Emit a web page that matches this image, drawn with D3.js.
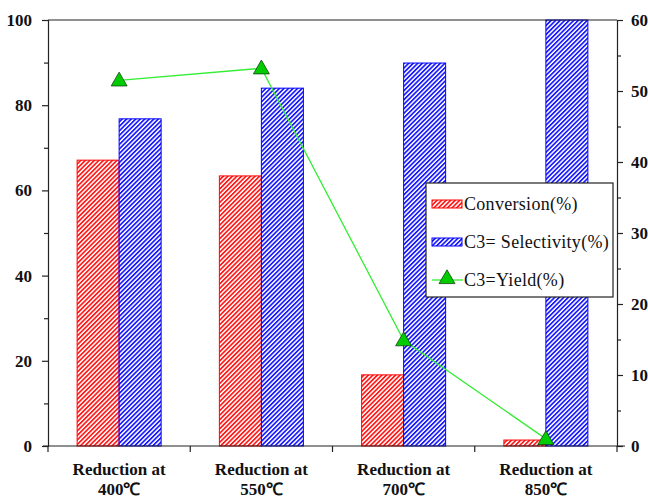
<!DOCTYPE html>
<html>
<head>
<meta charset="utf-8">
<script src="https://cdn.jsdelivr.net/npm/d3@7/dist/d3.min.js"></script>
<style>
  body { margin: 0; background: #fff; }
</style>
</head>
<body>
<div id="chart"></div>
<script>
(function() {
  var categories = ["Reduction at|400\u2103", "Reduction at|550\u2103", "Reduction at|700\u2103", "Reduction at|850\u2103"];
  var conversion = [67.1, 63.4, 16.7, 1.4];
  var selectivity = [76.8, 84.0, 89.9, 100];
  var yieldVals = [51.5, 53.2, 14.9, 1.0];
  var leftTicks = [0, 20, 40, 60, 80, 100];
  var rightTicks = [0, 10, 20, 30, 40, 50, 60];

  var W = 648, H = 498;
  var margin = { top: 20, left: 48, right: 31, bottom: 52 };
  var width = W - margin.left - margin.right,
      height = H - margin.top - margin.bottom;
  var serif = "Liberation Serif";

  var svg = d3.select("#chart").append("svg")
    .attr("width", W).attr("height", H)
    .attr("font-family", serif);

  var defs = svg.append("defs");
  function hatch(id, color) {
    var p = defs.append("pattern")
      .attr("id", id)
      .attr("patternUnits", "userSpaceOnUse")
      .attr("width", 3.2).attr("height", 3.2)
      .attr("patternTransform", "rotate(45)");
    p.append("rect").attr("width", 3.2).attr("height", 3.2).attr("fill", "#fff");
    p.append("rect").attr("width", 1.7).attr("height", 3.2).attr("fill", color);
  }
  hatch("hatch-red", "#ff1a1a");
  hatch("hatch-blue", "#1a1aff");

  var g = svg.append("g").attr("transform", "translate(" + margin.left + "," + margin.top + ")");

  var x = d3.scaleBand().domain(categories).range([0, width]).paddingInner(0).paddingOuter(0);
  var yL = d3.scaleLinear().domain([0, 100]).range([height, 0]);
  var yR = d3.scaleLinear().domain([0, 60]).range([height, 0]);
  var barW = 42;

  // bars
  g.selectAll(".conv").data(conversion).enter().append("rect")
    .attr("x", function(d, i) { return x(categories[i]) + x.bandwidth() / 2 - barW; })
    .attr("y", function(d) { return yL(d); })
    .attr("width", barW)
    .attr("height", function(d) { return height - yL(d); })
    .attr("fill", "url(#hatch-red)")
    .attr("stroke", "#ff0000").attr("stroke-width", 1);

  g.selectAll(".sel").data(selectivity).enter().append("rect")
    .attr("x", function(d, i) { return x(categories[i]) + x.bandwidth() / 2; })
    .attr("y", function(d) { return yL(d); })
    .attr("width", barW)
    .attr("height", function(d) { return height - yL(d); })
    .attr("fill", "url(#hatch-blue)")
    .attr("stroke", "#0000ff").attr("stroke-width", 1);

  // yield line
  var line = d3.line()
    .x(function(d, i) { return x(categories[i]) + x.bandwidth() / 2; })
    .y(function(d) { return yR(d); });
  g.append("path").datum(yieldVals)
    .attr("d", line)
    .attr("fill", "none")
    .attr("stroke", "#33ee33")
    .attr("stroke-width", 1.3);

  var tri = d3.symbol().type(d3.symbolTriangle).size(110);
  g.selectAll(".tri").data(yieldVals).enter().append("path")
    .attr("d", tri)
    .attr("transform", function(d, i) {
      return "translate(" + (x(categories[i]) + x.bandwidth() / 2) + "," + (yR(d) + 1) + ")";
    })
    .attr("fill", "#00cc00")
    .attr("stroke", "#114411").attr("stroke-width", 0.8);

  // frame
  g.append("line").attr("x1", 0).attr("x2", width).attr("y1", 0).attr("y2", 0)
    .attr("stroke", "#222").attr("stroke-width", 1.2);

  // left axis
  var left = g.append("g").call(d3.axisLeft(yL).tickValues(leftTicks).tickSize(6).tickPadding(10));
  left.append("g").call(d3.axisLeft(yL).tickValues([10, 30, 50, 70, 90]).tickSize(4).tickFormat(""))
    .select(".domain").remove();

  // right axis
  var right = g.append("g").attr("transform", "translate(" + width + ",0)")
    .call(d3.axisRight(yR).tickValues(rightTicks).tickSize(6).tickPadding(8));
  right.append("g").call(d3.axisRight(yR).tickValues([5, 15, 25, 35, 45, 55]).tickSize(4).tickFormat(""))
    .select(".domain").remove();

  [left, right].forEach(function(a) {
    a.attr("font-family", serif);
    a.selectAll("g").attr("font-family", serif);
    a.selectAll(".domain").attr("stroke", "#222").attr("stroke-width", 1.2);
    a.selectAll("line").attr("stroke", "#222").attr("stroke-width", 1.2);
    a.selectAll("text").attr("font-size", 17).attr("font-weight", "bold")
      .attr("font-family", serif).attr("fill", "#111");
  });

  // bottom axis
  var bottom = g.append("g").attr("transform", "translate(0," + height + ")");
  bottom.append("line").attr("x1", -5).attr("x2", width + 8)
    .attr("stroke", "#222").attr("stroke-width", 1.2);
  bottom.selectAll(".tk").data(d3.range(categories.length + 1)).enter().append("line")
    .attr("x1", function(d) { return d * x.bandwidth(); })
    .attr("x2", function(d) { return d * x.bandwidth(); })
    .attr("y1", 0).attr("y2", 6)
    .attr("stroke", "#222").attr("stroke-width", 1.2);

  var lab = bottom.selectAll(".lab").data(categories).enter().append("text")
    .attr("text-anchor", "middle")
    .attr("font-family", serif)
    .attr("font-size", 17).attr("font-weight", "bold").attr("fill", "#111");
  lab.append("tspan")
    .attr("x", function(d) { return x(d) + x.bandwidth() / 2; })
    .attr("y", 29)
    .text(function(d) { return d.split("|")[0]; });
  lab.append("tspan")
    .attr("x", function(d) { return x(d) + x.bandwidth() / 2; })
    .attr("y", 49)
    .text(function(d) { return d.split("|")[1]; });

  // legend
  var lg = svg.append("g").attr("transform", "translate(426,183)");
  lg.append("rect").attr("width", 187).attr("height", 114)
    .attr("fill", "#fff").attr("stroke", "#222").attr("stroke-width", 1.2);
  var items = [
    { label: "Conversion(%)", type: "red" },
    { label: "C3= Selectivity(%)", type: "blue" },
    { label: "C3=Yield(%)", type: "line" }
  ];
  items.forEach(function(it, i) {
    var cy = 21 + i * 38;
    if (it.type === "line") {
      lg.append("line").attr("x1", 6).attr("x2", 37).attr("y1", cy).attr("y2", cy)
        .attr("stroke", "#33ee33").attr("stroke-width", 1.3);
      lg.append("path").attr("d", tri).attr("transform", "translate(21," + (cy - 1) + ")")
        .attr("fill", "#00cc00").attr("stroke", "#114411").attr("stroke-width", 0.8);
    } else {
      lg.append("rect").attr("x", 6).attr("y", cy - 4).attr("width", 30).attr("height", 8)
        .attr("fill", it.type === "red" ? "url(#hatch-red)" : "url(#hatch-blue)")
        .attr("stroke", it.type === "red" ? "#ff0000" : "#0000ff");
    }
    lg.append("text").attr("x", 38).attr("y", cy + 6)
      .attr("font-family", serif)
      .attr("font-size", 18).attr("letter-spacing", 0.3).attr("fill", "#111").text(it.label);
  });
})();
</script>
</body>
</html>
